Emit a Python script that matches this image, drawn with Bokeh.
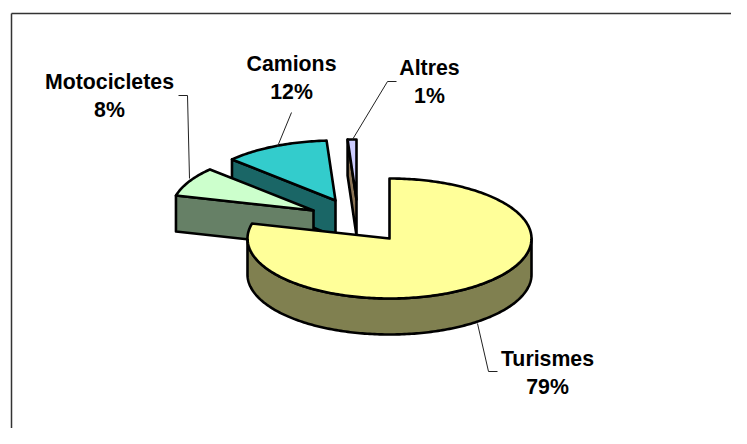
import math
from bokeh.plotting import figure
from bokeh.embed import file_html
from bokeh.resources import INLINE
from bokeh.core.properties import value

names = ["Turismes", "Motocicletes", "Camions", "Altres"]
shares = [79, 8, 12, 1]
top_colors = ["#FFFF99", "#CCFFCC", "#33CCCC", "#CCCCFF"]
side_colors = ["#808050", "#668066", "#1A6666", "#8A7355"]

# layout of the 3D pie, in pixels of the picture
CX, CY, RX, RY, DEPTH = 389, 238, 142, 60, 36
offsets = {"Turismes": (0, 0), "Motocicletes": (-76, -28), "Camions": (-54, -38), "Altres": (-33, -39)}
label_xy = {"Turismes": (547, 358), "Motocicletes": (109, 81), "Camions": (291, 63), "Altres": (429, 67)}
LINE_GAP = 28
leaders = {
    "Turismes": [(477, 323), (488, 371), (497, 371)],
    "Motocicletes": [(178, 95), (187, 95), (189, 178)],
    "Camions": [(291, 112), (277, 146)],
    "Altres": [(396, 81), (387, 81), (352, 139)],
}

W, H = 731, 428
p = figure(width=W, height=H, x_range=(0, W), y_range=(H, 0), min_border=0,
           toolbar_location=None, output_backend="svg", x_axis_type=None, y_axis_type=None)
p.grid.visible = False
p.outline_line_color = None
p.background_fill_color = "white"
p.border_fill_color = "white"

# frame
p.line([11, 11], [H, 13], line_color="#333333", line_width=1.5)
p.line([11, W], [13, 13], line_color="#333333", line_width=1.5)


def rim(deg, ox, oy):
    a = math.radians(deg)
    return CX + ox + RX * math.sin(a), CY + oy - RY * math.cos(a)


def arc(a0, a1, ox, oy):
    n = max(2, int(abs(a1 - a0)) + 1)
    return [rim(a0 + (a1 - a0) * i / (n - 1), ox, oy) for i in range(n)]


# slice angles from the values
spans = {}
start = 0.0
for n, s in zip(names, shares):
    spans[n] = (start, start + s * 3.6)
    start += s * 3.6

STROKE = 2.6


def poly(pts, color, lw=STROKE):
    p.patch([q[0] for q in pts], [q[1] for q in pts], fill_color=color, line_color="black",
            line_width=lw, line_join="round")


for n in ["Altres", "Camions", "Motocicletes", "Turismes"]:
    i = names.index(n)
    a0, a1 = spans[n]
    ox, oy = offsets[n]
    apex = (CX + ox, CY + oy)
    if n == "Turismes":
        # only the front half of the outer wall can be seen
        outer = arc(90, 270, ox, oy)
        lower = [(x, y + DEPTH) for x, y in reversed(outer)]
        poly(outer + lower, side_colors[i])
    else:
        c = rim(a0, ox, oy)
        poly([c, (c[0], c[1] + DEPTH), (apex[0], apex[1] + DEPTH), apex], side_colors[i])
    poly([apex] + arc(a0, a1, ox, oy), top_colors[i])

# leader lines and labels
for n, s in zip(names, shares):
    pts = leaders[n]
    p.line([q[0] for q in pts], [q[1] for q in pts], line_color="#222222", line_width=1)
    x, y = label_xy[n]
    for dy, t in ((0, n), (LINE_GAP, f"{s}%")):
        p.text([x], [y + dy], text=[t], text_font=value("Liberation Sans"), text_font_style="bold",
               text_font_size="21.3px", text_color="black", text_align="center", text_baseline="middle")

open("out.html", "w").write(file_html(p, INLINE))
